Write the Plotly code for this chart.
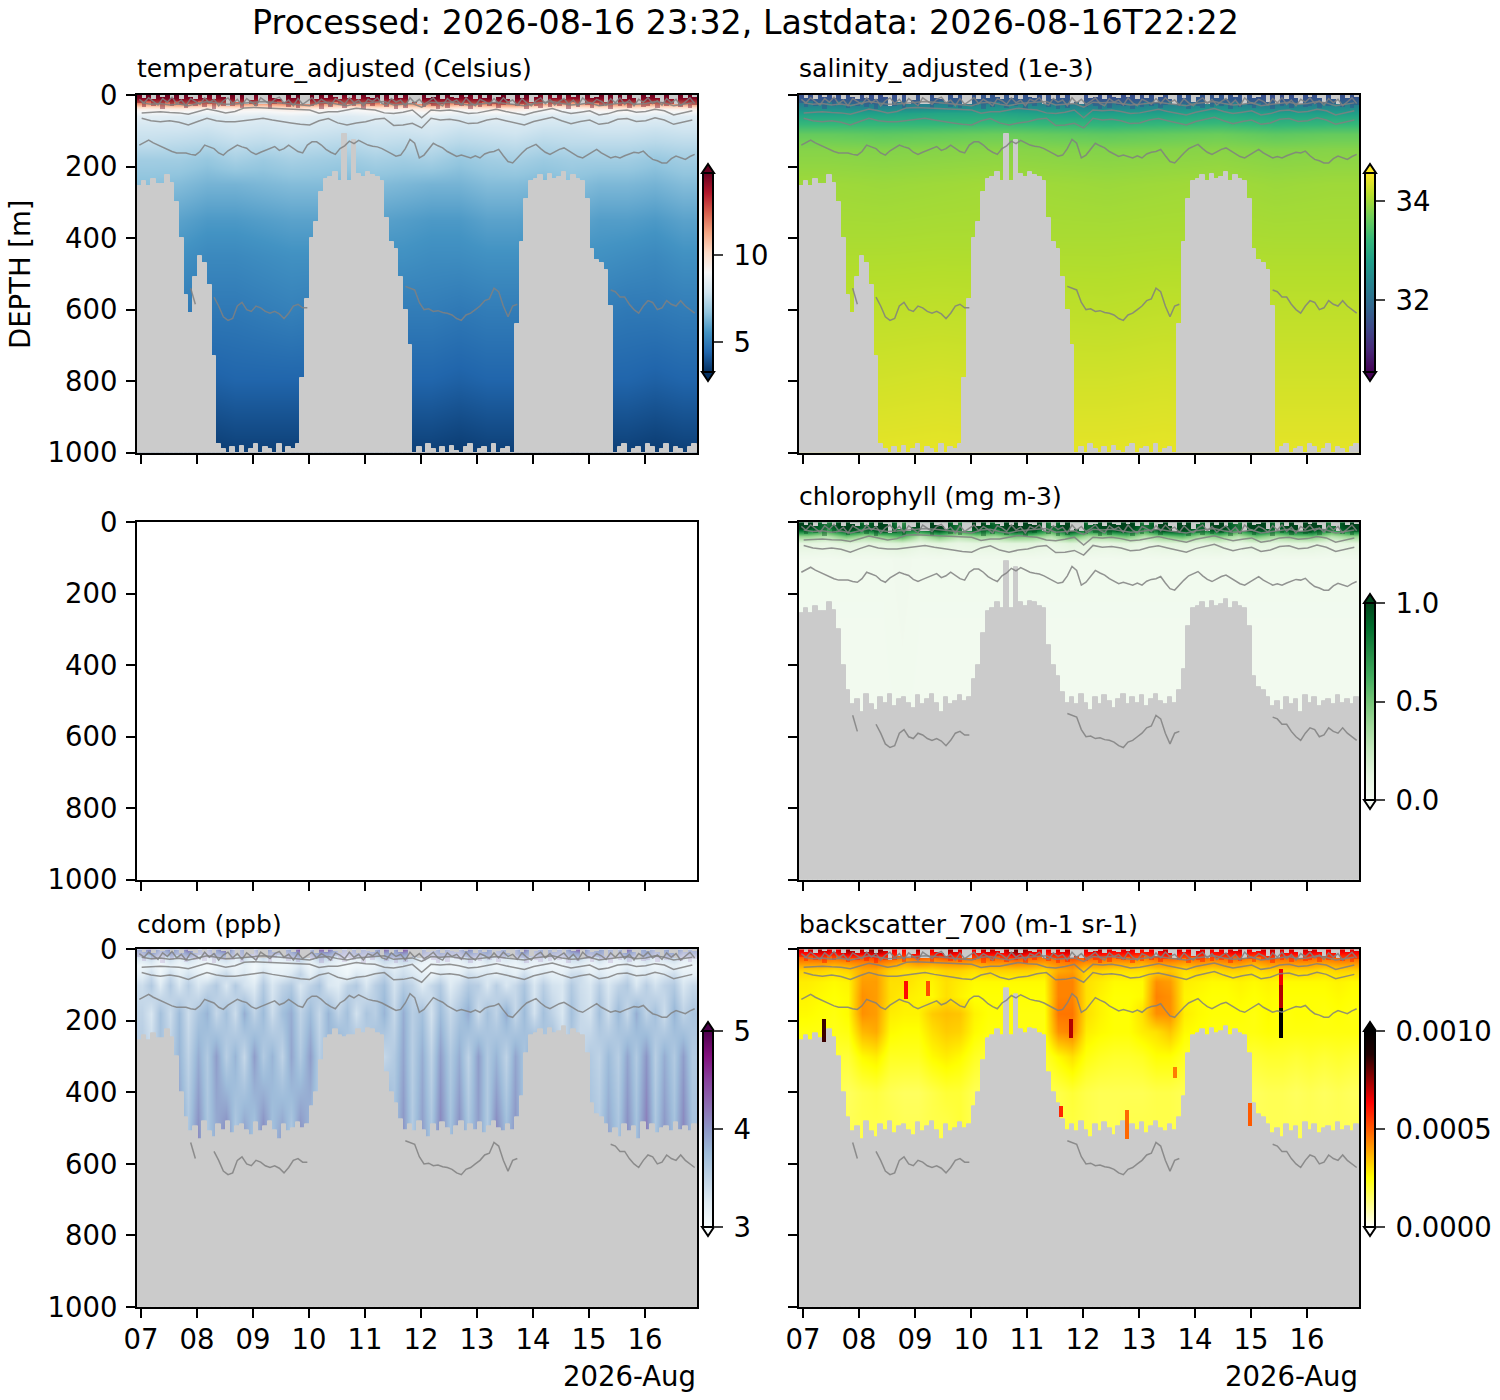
import pandas as pd
import plotly.graph_objects as go
from plotly.subplots import make_subplots

# deepest sampled depth per 2 hour bin, ctd channels
REACH_CTD = [255,240,255,235,250,250,225,245,300,400,
             560,610,510,450,470,530,730,975,990,1000,
             985,1000,980,1000,990,975,1000,985,990,1000,
             975,1000,985,990,975,790,570,400,355,270,
             235,230,215,240,110,240,125,220,230,215,
             225,230,240,345,410,430,510,600,700,1000,
             985,1000,975,990,1000,985,1000,980,995,1000,
             985,975,1000,990,985,1000,975,1000,990,985,
             1000,640,410,290,240,235,225,240,220,235,
             230,215,240,225,235,240,290,430,460,470,
             490,590,1000,985,975,1000,990,985,1000,975,
             985,1000,990,975,1000,985,990,1000,985,975]
# same for the optical channels
REACH_OPT = [255,240,255,235,250,250,225,245,300,400,
             470,510,495,530,480,510,525,490,505,480,
             515,495,490,505,520,485,510,495,480,505,
             530,490,510,500,485,500,490,440,400,310,
             250,240,225,240,110,240,125,225,235,220,
             225,235,240,345,400,430,475,505,490,510,
             480,505,525,490,510,485,500,520,495,480,
             510,490,505,485,515,495,480,500,510,490,
             505,470,410,290,240,235,225,240,220,235,
             230,215,240,225,235,240,290,430,460,470,
             490,515,500,525,490,510,495,530,485,505,
             490,515,500,495,510,485,505,495,510,490]
# cdom keeps its samples where the other optical channels drop out
REACH_CDOM = REACH_OPT[:44] + [245,240,240] + REACH_OPT[47:]
SURF_GAP = [0,8,0,10,0,6,0,8,0,12,
            0,6,10,0,8,0,12,0,6,30,
            0,20,0,25,15,0,25,25,0,8,
            10,20,0,8,0,25,25,0,10,0,
            8,0,6,10,0,8,0,12,0,6,
            8,0,25,0,10,0,8,0,25,20,
            25,0,8,6,0,10,0,6,8,0,
            6,0,10,0,8,0,20,6,0,12,
            25,0,8,0,20,6,0,25,0,8,
            0,10,0,6,0,25,0,8,6,0,
            20,0,25,0,10,0,8,25,0,6,
            0,8,20,0,10,25,0,8,0,6]
# how far the strong surface colour reaches in each bin
SURF_STREAK = [22,34,18,30,26,38,20,32,16,28,
               36,24,30,18,34,26,40,22,30,14,
               32,20,36,16,24,30,18,22,38,26,
               18,24,34,28,36,16,20,30,24,38,
               26,34,20,28,36,24,30,22,38,26,
               32,20,16,34,24,40,28,36,16,22,
               18,34,26,30,38,24,36,20,28,32,
               22,38,26,34,20,30,24,36,28,18,
               16,32,24,38,22,30,36,18,34,26,
               30,24,38,20,34,16,28,36,22,32,
               24,38,18,32,26,36,24,18,34,30,
               26,36,22,32,24,18,34,26,36,28]

# contour depths, 2 hourly, shallowest one is very jagged
ISO_12 = [12,22,8,18,28,10,20,6,24,14,
          30,10,18,26,8,22,12,30,16,8,
          24,12,28,10,20,30,8,18,26,12,
          6,22,14,30,10,26,18,8,24,12,
          20,30,10,16,26,8,22,14,30,12,
          18,8,24,28,10,20,14,30,8,22,
          12,26,18,8,24,30,10,20,14,28,
          8,22,30,12,18,26,10,24,8,20,
          14,28,10,22,30,16,8,24,12,28,
          18,10,26,14,30,8,20,24,12,18,
          28,10,22,8,26,14,30,12,20,8,
          24,16,28,10,22,12,30,18,8,24]
# contour depths, 4 hourly
ISO_25 = [22,26,24,28,25,30,24,18,22,26,25,22,20,18,20,22,26,28,30,22,20,26,30,24,22,20,18,28,26,24,34,20,
          22,20,24,28,26,22,20,24,28,30,24,22,18,24,28,26,22,30,26,22,20,26,24,18,22,30,26,22]
ISO_50 = [50,48,47,49,50,54,46,39,44,50,46,36,35,36,37,37,38,39,42,51,47,47,42,37,40,42,50,52,48,42,64,42,
          44,42,46,52,50,44,40,46,50,56,48,42,38,46,52,48,44,56,52,44,42,48,46,40,44,56,50,44]
ISO_80 = [65,72,75,72,76,84,74,65,72,75,75,72,68,65,70,73,78,82,84,72,66,78,84,78,75,68,65,85,84,79,92,65,
          70,68,72,80,78,70,66,72,78,84,74,68,62,72,80,74,70,82,78,68,66,74,72,64,70,82,76,70]
# contour depths, 2 hourly
ISO_150 = [140,132,126,134,140,148,154,158,162,162,
           162,166,168,158,140,145,150,162,168,156,
           148,140,145,149,160,166,160,154,148,144,
           155,150,140,150,158,162,140,131,131,140,
           152,160,166,150,142,129,136,127,134,140,
           143,145,150,156,164,171,168,150,124,135,
           176,168,150,135,142,148,158,166,172,168,
           171,176,170,176,165,160,158,152,170,186,
           190,175,162,150,144,138,150,160,166,158,
           152,148,156,165,172,176,168,158,152,162,
           170,176,172,176,170,165,160,162,157,170,
           180,184,190,190,178,171,176,180,172,166]
ISO_600 = [None]*11 + [540,585] + [None]*3 + [
           565,590,620,630,625,590,580,600,605,590,
           595,605,610,605,612,625,610,590,585,595,595] + [None]*20 + [
           535,540,545,580,600,598,605,603,608,610,
           615,625,630,615,610,600,590,575,570,540,
           550,590,620,590,585] + [None]*19 + [
           545,550,565,565,585,600,610,590,575,580,
           600,595,575,585,590,575,590,600,610]

TEMP_DEPTH = [0,8,15,25,40,60,90,130,180,250,350,450,600,800,1000]
TEMP_VALUES = [
 [14.6,14.7,14.4,14.6,14.5,14.7,14.6,14.3,14.6,14.5,14.7,14.5,14.6,14.7,14.4,14.3,14.6,14.7,14.5,14.6],
 [14.0,14.2,13.7,14.1,13.8,14.3,14.0,13.5,14.1,13.9,14.3,13.8,14.2,14.4,13.7,13.5,14.0,14.2,13.9,14.1],
 [13.0,13.3,12.7,13.1,12.8,13.4,13.0,12.5,13.1,12.8,13.5,12.9,13.3,13.5,12.7,12.5,13.0,13.3,12.9,13.0],
 [11.4,11.7,11.1,11.5,11.2,11.8,11.4,11.0,11.5,11.2,11.8,11.2,11.6,11.9,11.1,11.0,11.4,11.6,11.2,11.4],
 [9.3,9.4,9.1,9.3,9.2,9.5,9.3,9.0,9.3,9.2,9.5,9.2,9.4,9.5,9.1,9.0,9.3,9.4,9.2,9.3],
 [8.4,8.3,8.2,8.4,8.3,8.5,8.3,8.2,8.4,8.3,8.5,8.3,8.4,8.4,8.2,8.2,8.3,8.4,8.3,8.3],
 [7.9,7.9,7.8,8.0,7.9,8.0,7.9,7.8,7.9,7.9,8.0,7.8,7.9,8.0,7.8,7.8,7.9,7.9,7.8,7.9],
 [7.6,7.5,7.4,7.6,7.5,7.6,7.5,7.4,7.6,7.5,7.6,7.4,7.5,7.6,7.4,7.5,7.5,7.5,7.4,7.5],
 [7.0,7.0,6.8,7.1,6.9,7.1,7.0,6.9,7.1,7.0,7.1,6.8,7.0,7.1,6.9,7.0,7.0,7.0,6.8,7.0],
 [6.6,6.5,6.3,6.3,6.4,6.5,6.5,6.4,6.5,6.4,6.3,6.3,6.5,6.5,6.4,6.6,6.4,6.4,6.3,6.5],
 [6.0,5.9,5.7,5.7,5.8,5.9,5.9,5.8,5.9,5.8,5.7,5.7,5.9,5.9,5.8,6.0,5.8,5.8,5.7,5.9],
 [5.6,5.5,5.3,5.3,5.4,5.5,5.5,5.4,5.5,5.5,5.4,5.4,5.5,5.5,5.4,5.5,5.5,5.4,5.3,5.5],
 [5.1,5.0,4.9,4.9,5.0,5.1,5.0,4.9,5.0,5.0,5.0,4.9,5.0,5.0,4.9,5.0,5.0,4.9,4.9,5.0],
 [4.4,4.4,4.3,4.4,4.4,4.4,4.4,4.3,4.4,4.4,4.4,4.3,4.4,4.4,4.3,4.4,4.4,4.4,4.3,4.4],
 [3.6,3.6,3.5,3.6,3.6,3.6,3.6,3.5,3.6,3.6,3.6,3.5,3.6,3.6,3.5,3.6,3.6,3.6,3.5,3.6],
]

SAL_DEPTH = [0,10,20,35,50,75,110,150,250,400,600,800,1000]
SAL_VALUES = [
 [31.7,31.6,31.7,31.8,31.7,31.6,31.7,31.8,31.6,31.7],
 [31.9,31.8,31.9,32.0,31.9,31.8,31.9,32.0,31.8,31.9],
 [32.2,32.1,32.2,32.3,32.2,32.1,32.2,32.3,32.1,32.2],
 [32.5,32.4,32.5,32.6,32.5,32.4,32.5,32.6,32.4,32.5],
 [32.8,32.8,32.9,32.9,32.8,32.8,32.8,32.9,32.8,32.8],
 [33.15,33.15,33.15,33.2,33.15,33.1,33.15,33.2,33.1,33.15],
 [33.6,33.55,33.6,33.65,33.6,33.55,33.6,33.65,33.55,33.6],
 [33.82,33.8,33.82,33.84,33.82,33.8,33.82,33.84,33.8,33.82],
 [33.98,33.96,33.98,34.0,33.98,33.96,33.98,34.0,33.96,33.98],
 [34.05,34.05,34.06,34.06,34.05,34.05,34.06,34.06,34.05,34.05],
 [34.18,34.18,34.19,34.18,34.18,34.17,34.19,34.18,34.18,34.18],
 [34.3,34.3,34.32,34.3,34.3,34.3,34.32,34.3,34.3,34.3],
 [34.42,34.42,34.43,34.42,34.42,34.42,34.43,34.42,34.42,34.42],
]

CHL_DEPTH = [0,8,16,26,40,60,100,1000]
CHL_VALUES = [
 [1.2,0.6,1.2,0.7,1.2,0.5,1.2,1.2,0.6,1.1,0.7,1.2,1.2,0.6,1.2,0.7,1.1,1.2,0.6,1.1,1.2,0.7,1.2,0.6,1.2,0.7,1.2,1.2,0.6,1.1],
 [1.1,0.7,1.2,0.8,1.1,0.6,1.1,1.2,0.7,1.1,0.8,1.2,1.1,0.7,1.2,0.8,1.1,1.2,0.7,1.1,1.2,0.8,1.1,0.7,1.2,0.8,1.1,1.2,0.7,1.1],
 [1.0,0.7,1.1,0.8,1.1,0.7,1.0,1.1,0.7,1.0,0.8,1.1,1.1,0.7,1.1,0.8,1.0,1.1,0.7,1.0,1.1,0.8,1.1,0.7,1.1,0.8,1.1,1.1,0.7,1.0],
 [0.8,0.6,0.9,0.7,0.9,0.8,0.7,0.9,0.6,0.8,0.7,0.9,0.9,0.6,0.95,0.7,0.8,0.9,0.6,0.9,0.95,0.7,0.9,0.6,0.9,0.7,0.9,0.9,0.6,0.8],
 [0.4,0.3,0.5,0.35,0.45,0.6,0.3,0.5,0.3,0.4,0.35,0.5,0.45,0.3,0.55,0.35,0.4,0.5,0.3,0.45,0.55,0.35,0.45,0.3,0.5,0.35,0.45,0.5,0.3,0.4],
 [0.12,0.1,0.14,0.12,0.13,0.16,0.1,0.13,0.1,0.12,0.12,0.13,0.13,0.1,0.14,0.12,0.1,0.13,0.1,0.13,0.14,0.12,0.13,0.1,0.13,0.12,0.13,0.13,0.1,0.12],
 [0.04,0.04,0.04,0.04,0.04,0.05,0.04,0.04,0.04,0.04,0.04,0.04,0.04,0.04,0.04,0.04,0.04,0.04,0.04,0.04,0.04,0.04,0.04,0.04,0.04,0.04,0.04,0.04,0.04,0.04],
 [0.03,0.03,0.03,0.03,0.03,0.03,0.03,0.03,0.03,0.03,0.03,0.03,0.03,0.03,0.03,0.03,0.03,0.03,0.03,0.03,0.03,0.03,0.03,0.03,0.03,0.03,0.03,0.03,0.03,0.03],
]

CDOM_DEPTH = [0,12,25,45,70,100,180,300,520]
CDOM_VALUES = [
 [3.7,4.1,3.5,4.0,3.6,4.2,3.5,3.4,3.8,4.3,3.4,3.7,3.4,4.1,3.6,3.5,3.8,4.4,3.5,4.2,4.2,3.5,3.4,3.6,3.5,3.7,4.2,3.8,4.3,4.0,3.6,3.4,3.7,3.5,3.5,4.0,3.6,3.8,3.5,3.7,3.5,4.1,3.5,3.7,3.6,3.5,4.0,4.3,3.5,3.8,3.6,3.5,4.2,3.6,3.8,3.5,3.7,4.0,3.5,3.6],
 [3.5,3.8,3.4,3.7,3.5,3.8,3.4,3.3,3.6,3.8,3.4,3.6,3.3,3.7,3.5,3.4,3.6,3.9,3.5,3.8,3.8,3.4,3.3,3.5,3.4,3.6,3.8,3.7,3.9,3.7,3.5,3.3,3.6,3.4,3.4,3.7,3.5,3.7,3.4,3.6,3.5,3.8,3.4,3.6,3.5,3.4,3.7,3.8,3.5,3.7,3.5,3.4,3.8,3.5,3.7,3.4,3.6,3.7,3.4,3.5],
 [3.3,3.4,3.15,3.4,3.2,3.4,3.2,3.15,3.3,3.4,3.2,3.4,3.15,3.4,3.2,3.2,3.3,3.5,3.2,3.5,3.4,3.2,3.15,3.2,3.2,3.3,3.5,3.4,3.5,3.4,3.2,3.15,3.3,3.2,3.2,3.4,3.2,3.4,3.2,3.3,3.2,3.4,3.2,3.3,3.2,3.2,3.4,3.4,3.2,3.4,3.2,3.2,3.4,3.2,3.4,3.2,3.3,3.4,3.2,3.2],
 [3.1,3.2,3.05,3.2,3.1,3.2,3.1,3.05,3.1,3.2,3.1,3.2,3.05,3.2,3.1,3.1,3.15,3.3,3.1,3.25,3.2,3.1,3.05,3.1,3.1,3.15,3.3,3.2,3.3,3.2,3.1,3.05,3.15,3.1,3.1,3.2,3.1,3.2,3.1,3.15,3.1,3.2,3.1,3.15,3.1,3.1,3.2,3.2,3.1,3.2,3.1,3.1,3.2,3.1,3.2,3.1,3.15,3.2,3.1,3.1],
 [3.2,3.4,3.1,3.4,3.2,3.35,3.2,3.1,3.3,3.45,3.2,3.3,3.1,3.4,3.2,3.2,3.3,3.5,3.2,3.4,3.3,3.2,3.1,3.3,3.2,3.3,3.5,3.3,3.4,3.3,3.2,3.1,3.3,3.2,3.2,3.4,3.3,3.3,3.2,3.3,3.2,3.4,3.2,3.3,3.2,3.2,3.4,3.4,3.2,3.3,3.2,3.2,3.4,3.2,3.3,3.2,3.3,3.4,3.2,3.2],
 [3.4,3.6,3.25,3.6,3.3,3.55,3.3,3.45,3.6,3.3,3.6,3.35,3.25,3.6,3.3,3.5,3.6,3.3,3.5,3.65,3.3,3.25,3.5,3.6,3.3,3.55,3.7,3.35,3.6,3.5,3.25,3.45,3.6,3.25,3.4,3.6,3.55,3.3,3.55,3.3,3.45,3.65,3.3,3.55,3.35,3.3,3.6,3.4,3.3,3.55,3.3,3.5,3.6,3.3,3.55,3.35,3.5,3.6,3.3,3.45],
 [3.5,3.3,3.7,3.4,3.75,3.4,3.65,3.8,3.45,3.7,3.4,3.85,3.5,3.75,3.4,3.7,3.85,3.5,3.75,3.45,3.8,3.5,3.7,3.35,3.65,3.55,3.8,3.45,3.85,3.55,3.7,3.35,3.75,3.45,3.65,3.85,3.4,3.7,3.5,3.85,3.45,3.75,3.35,3.7,3.5,3.3,3.7,3.45,3.35,3.7,3.4,3.75,3.45,3.85,3.5,3.7,3.4,3.8,3.5,3.65],
 [3.6,3.45,3.7,3.55,3.8,3.5,3.85,3.6,3.95,3.55,3.8,3.45,3.95,3.6,3.8,3.5,3.9,3.6,3.95,3.55,3.75,4.0,3.6,3.85,3.5,3.8,3.45,3.6,3.9,3.55,3.85,3.5,3.95,3.6,3.85,3.5,3.95,3.6,3.8,3.5,3.9,3.65,4.0,3.6,3.85,3.5,3.6,3.45,3.6,3.5,3.75,3.55,3.9,3.6,4.0,3.55,3.85,3.6,3.95,3.6],
 [3.7,3.55,3.8,3.6,3.95,3.65,4.05,3.65,3.85,4.1,3.6,3.95,3.65,4.1,3.7,3.95,3.6,4.05,3.75,3.6,3.95,4.15,3.65,3.9,3.6,3.85,4.1,3.7,4.0,3.6,3.95,3.65,4.1,3.7,4.05,3.65,3.95,3.6,4.1,3.75,4.0,3.65,4.15,3.7,3.9,3.6,3.75,3.55,3.7,3.6,3.9,3.65,4.05,3.7,4.15,3.65,4.0,3.7,4.1,3.7],
]

# backscatter in units of 1e-3
BB_DEPTH = [0,10,20,35,60,90,130,180,230,300,400,500]
BB_VALUES = [
 [.70,.80,.65,.85,.75,.90,.70,.62,.80,.68,.85,.72,.66,.78,.70,.95,.75,.68,.72,.80,.70,.76,.66,.72,.62,.70,.78,.68,.72,.66,.70,.75,.64,.78,.70,.72,.76,.68,.72,.70],
 [.60,.66,.58,.70,.64,.74,.60,.55,.66,.58,.70,.62,.58,.64,.60,.75,.62,.58,.62,.68,.60,.62,.58,.60,.55,.60,.64,.58,.62,.58,.60,.62,.56,.64,.60,.62,.62,.58,.60,.60],
 [.50,.52,.48,.54,.52,.56,.50,.46,.52,.48,.54,.50,.48,.50,.50,.56,.50,.48,.50,.54,.50,.50,.48,.50,.46,.50,.52,.48,.50,.48,.50,.50,.46,.50,.50,.50,.50,.48,.50,.50],
 [.42,.42,.40,.42,.44,.46,.42,.38,.42,.40,.42,.42,.40,.42,.42,.44,.42,.40,.44,.46,.42,.42,.40,.40,.38,.42,.42,.40,.42,.40,.42,.42,.38,.42,.42,.42,.42,.40,.42,.42],
 [.32,.32,.30,.32,.38,.38,.32,.30,.30,.30,.32,.32,.30,.32,.32,.32,.32,.30,.38,.40,.32,.32,.30,.30,.30,.32,.34,.30,.32,.30,.32,.32,.30,.32,.32,.32,.32,.30,.32,.32],
 [.28,.27,.26,.27,.40,.40,.30,.30,.28,.27,.30,.28,.26,.26,.26,.26,.26,.26,.44,.44,.30,.28,.26,.26,.26,.42,.40,.28,.27,.26,.26,.27,.26,.27,.26,.26,.26,.26,.27,.26],
 [.27,.26,.25,.26,.42,.40,.30,.28,.27,.26,.30,.27,.25,.25,.25,.25,.25,.25,.44,.44,.30,.27,.25,.25,.26,.44,.42,.27,.26,.25,.25,.26,.25,.26,.25,.25,.25,.25,.26,.25],
 [.26,.25,.24,.26,.42,.40,.28,.27,.27,.33,.35,.34,.27,.25,.25,.24,.24,.24,.46,.46,.30,.27,.25,.25,.30,.42,.42,.28,.26,.25,.25,.25,.24,.26,.24,.25,.25,.24,.25,.24],
 [.24,.24,.23,.24,.36,.38,.26,.25,.25,.30,.33,.32,.26,.24,.24,.24,.24,.24,.42,.44,.28,.26,.25,.25,.28,.30,.34,.26,.25,.24,.24,.24,.24,.25,.24,.24,.24,.24,.24,.24],
 [.21,.20,.20,.20,.26,.28,.22,.22,.22,.26,.28,.26,.22,.20,.20,.20,.20,.21,.26,.30,.24,.22,.21,.21,.22,.25,.25,.22,.21,.21,.20,.21,.20,.21,.21,.20,.21,.20,.21,.20],
 [.17,.17,.17,.16,.18,.19,.17,.16,.16,.18,.20,.20,.17,.16,.16,.16,.16,.17,.18,.20,.18,.17,.17,.17,.17,.18,.18,.17,.17,.17,.16,.17,.16,.17,.17,.16,.17,.16,.17,.16],
 [.17,.17,.17,.17,.18,.18,.18,.17,.17,.18,.18,.20,.17,.17,.17,.17,.17,.17,.18,.19,.18,.17,.17,.18,.18,.18,.18,.17,.17,.17,.17,.17,.17,.17,.17,.17,.17,.17,.17,.17],
]
# narrow bright patches in backscatter
BB_SPOT_TIME = ["2026-08-15 12:51","2026-08-15 12:51","2026-08-15 12:51","2026-08-08 20:00",
                "2026-08-09 05:30","2026-08-07 09:00","2026-08-11 19:00","2026-08-12 19:00",
                "2026-08-13 15:30","2026-08-14 23:30","2026-08-11 14:30"]
BB_SPOT_TOP = [55,100,165,90,90,195,195,450,330,430,440]
BB_SPOT_LEN = [45,65,85,50,40,65,55,80,30,65,30]
BB_SPOT_VALUE = [.65,.72,1.0,.62,.52,.85,.72,.48,.45,.5,.58]

COL_TITLES = ["temperature_adjusted (Celsius)", "salinity_adjusted (1e-3)",
              "chlorophyll (mg m-3)", "cdom (ppb)", "backscatter_700 (m-1 sr-1)"]
DAY_TICKS = ["07","08","09","10","11","12","13","14","15","16"]
DEPTH_TICKS = [0,200,400,600,800,1000]

GREY = "#cbcbcb"
HOT_R = [[0,"#ffffff"],[0.254,"#ffff00"],[0.635,"#ff0000"],[0.88,"#200000"],[1,"#000000"]]
FONT = "DejaVu Sans"
TICK_SIZE = 27.5
THIN = "\u2009"

bins = pd.date_range("2026-08-06 23:17", periods=120, freq="2h")
bins_4h = pd.date_range("2026-08-07 00:17", periods=60, freq="4h")


def px_x(x):
    return (x - 137) / 1222


def px_y(y):
    return (1307 - y) / 1212


def grid_times(n):
    step = pd.Timedelta(days=10) / n
    return [pd.Timestamp("2026-08-06 22:17") + step * (j + 0.5) for j in range(n)]


fig = make_subplots(rows=3, cols=2, horizontal_spacing=102 / 1222, vertical_spacing=69.5 / 1212)


def add_panel(row, col, depth, values, scale, zmin, zmax, reach, streak, bar_left, bar_top, bar_bottom, ticks, ticktext):
    fig.add_trace(go.Heatmap(
        x=grid_times(len(values[0])), y=depth, z=values, colorscale=scale, zmin=zmin, zmax=zmax,
        zsmooth="best", hoverinfo="skip",
        colorbar=dict(x=px_x(bar_left), xref="paper", xanchor="left", xpad=0,
                      y=px_y(bar_top), yanchor="top", yref="paper", ypad=0,
                      len=(bar_bottom - bar_top) / 1212, lenmode="fraction",
                      thickness=10, outlinewidth=2, outlinecolor="black",
                      tickvals=ticks, ticktext=[THIN + t for t in ticktext], ticks="outside", ticklen=9, tickwidth=2,
                      tickfont=dict(family=FONT, size=TICK_SIZE, color="black")),
    ), row=row, col=col)
    fig.add_trace(go.Bar(x=bins, y=SURF_STREAK, base=[0] * len(SURF_STREAK), width=7200000,
                         marker=dict(color=streak, line=dict(width=0)), hoverinfo="skip"),
                  row=row, col=col)
    # grey where the glider did not sample
    fig.add_trace(go.Bar(x=bins, y=[1000 - r for r in reach], base=reach, width=7200000,
                         marker=dict(color=GREY, line=dict(width=1, color=GREY)), hoverinfo="skip"),
                  row=row, col=col)
    fig.add_trace(go.Bar(x=bins, y=SURF_GAP, base=[0] * len(SURF_GAP), width=7200000,
                         marker=dict(color=GREY, line=dict(width=0)), hoverinfo="skip"),
                  row=row, col=col)


add_panel(1, 1, TEMP_DEPTH, TEMP_VALUES, "RdBu_r", 3.28, 14.7, REACH_CTD, "rgba(103,0,31,0.4)",
          703, 173, 372, [5, 10], ["5", "10"])
add_panel(1, 2, SAL_DEPTH, SAL_VALUES, "Viridis", 30.54, 34.57, REACH_CTD, "rgba(60,60,140,0.35)",
          1365, 173, 372, [32, 34], ["32", "34"])
add_panel(2, 2, CHL_DEPTH, CHL_VALUES, "Greens", 0, 1, REACH_OPT, "rgba(0,68,27,0.4)",
          1365, 603, 800, [0, 0.5, 1], ["0.0", "0.5", "1.0"])
add_panel(3, 1, CDOM_DEPTH, CDOM_VALUES, "BuPu", 3, 5, REACH_CDOM, "rgba(136,65,157,0.15)",
          703, 1031, 1227, [3, 4, 5], ["3", "4", "5"])
add_panel(3, 2, BB_DEPTH, BB_VALUES, HOT_R, 0, 1, REACH_OPT, "rgba(255,0,0,0.4)",
          1365, 1031, 1227, [0, 0.5, 1], ["0.0000", "0.0005", "0.0010"])

fig.add_trace(go.Bar(x=pd.to_datetime(BB_SPOT_TIME), y=BB_SPOT_LEN, base=BB_SPOT_TOP, width=6000000,
                     marker=dict(color=BB_SPOT_VALUE, colorscale=HOT_R, cmin=0, cmax=1, line=dict(width=0)),
                     hoverinfo="skip"), row=3, col=2)

for row, col in [(1, 1), (1, 2), (2, 2), (3, 1), (3, 2)]:
    for times, iso in [(bins, ISO_12), (bins_4h, ISO_25), (bins_4h, ISO_50), (bins_4h, ISO_80),
                       (bins, ISO_150), (bins, ISO_600)]:
        fig.add_trace(go.Scatter(x=times, y=iso, mode="lines", hoverinfo="skip",
                                 line=dict(color="rgba(128,128,128,0.85)", width=1.5)), row=row, col=col)

# empty panel still needs its axes
fig.add_trace(go.Scatter(x=[], y=[], hoverinfo="skip"), row=2, col=1)

fig.update_xaxes(type="date", range=["2026-08-06 22:17", "2026-08-16 22:17"],
                 tickmode="array", tickvals=pd.date_range("2026-08-07", periods=10, freq="D"), ticktext=DAY_TICKS,
                 ticks="outside", ticklen=9, tickwidth=2, tickcolor="black",
                 showgrid=False, zeroline=False, showline=True, linewidth=2, linecolor="black", mirror=True,
                 tickfont=dict(family=FONT, size=TICK_SIZE, color="black"), showticklabels=False)
fig.update_xaxes(showticklabels=True, ticklabelstandoff=-2, row=3)
fig.update_yaxes(range=[1000, 0], tickmode="array", tickvals=DEPTH_TICKS,
                 ticks="outside", ticklen=9, tickwidth=2, tickcolor="black", ticklabelstandoff=3,
                 showgrid=False, zeroline=False, showline=True, linewidth=2, linecolor="black", mirror=True,
                 tickfont=dict(family=FONT, size=TICK_SIZE, color="black"))
fig.update_yaxes(showticklabels=False, col=2)

# matplotlib style extend triangles on the colourbars
bars = [(703, 173, 372, "#67001f", "#053061"), (1365, 173, 372, "#fde725", "#440154"),
        (1365, 603, 800, "#00441b", "#f7fcf5"), (703, 1031, 1227, "#4d004b", "#f7fcfd"),
        (1365, 1031, 1227, "#000000", "#ffffff")]
shapes = []
for left, top, bottom, hi, lo in bars:
    xl, xm, xr = px_x(left - 1), px_x(left + 5), px_x(left + 11)
    shapes.append(dict(type="path", xref="paper", yref="paper", fillcolor=hi, line=dict(color="black", width=2),
                       path=f"M {xl} {px_y(top)} L {xm} {px_y(top - 9)} L {xr} {px_y(top)} Z"))
    shapes.append(dict(type="path", xref="paper", yref="paper", fillcolor=lo, line=dict(color="black", width=2),
                       path=f"M {xl} {px_y(bottom)} L {xm} {px_y(bottom + 9)} L {xr} {px_y(bottom)} Z"))

notes = [dict(text="Processed: 2026-08-16 23:32, Lastdata: 2026-08-16T22:22", x=px_x(745), y=px_y(22),
              xanchor="center", yanchor="middle", font=dict(size=33.3)),
         dict(text="DEPTH [m]", x=px_x(20), y=px_y(274), xanchor="center", yanchor="middle", textangle=-90,
              font=dict(size=TICK_SIZE)),
         dict(text="2026-Aug", x=px_x(697), y=px_y(1376), xanchor="right", yanchor="middle", font=dict(size=TICK_SIZE)),
         dict(text="2026-Aug", x=px_x(1359), y=px_y(1376), xanchor="right", yanchor="middle", font=dict(size=TICK_SIZE))]
for title, left, y in [(COL_TITLES[0], 136, 69), (COL_TITLES[1], 798, 69), (COL_TITLES[2], 798, 497),
                       (COL_TITLES[3], 136, 924), (COL_TITLES[4], 798, 924)]:
    notes.append(dict(text=title, x=px_x(left), y=px_y(y), xanchor="left", yanchor="middle", font=dict(size=25.07)))
for n in notes:
    n.update(xref="paper", yref="paper", showarrow=False, xshift=0, borderpad=0)
    n["font"].update(family=FONT, color="black")

fig.update_layout(width=1500, height=1400, margin=dict(l=137, r=141, t=95, b=93, autoexpand=False),
                  paper_bgcolor="white", plot_bgcolor="white", showlegend=False, barmode="overlay", bargap=0,
                  shapes=shapes, annotations=notes, font=dict(family=FONT))

# drop the default body margin so the figure sits at the page corner
fig.write_html("out.html", config={"displayModeBar": False}, post_script="document.body.style.margin='0';")
